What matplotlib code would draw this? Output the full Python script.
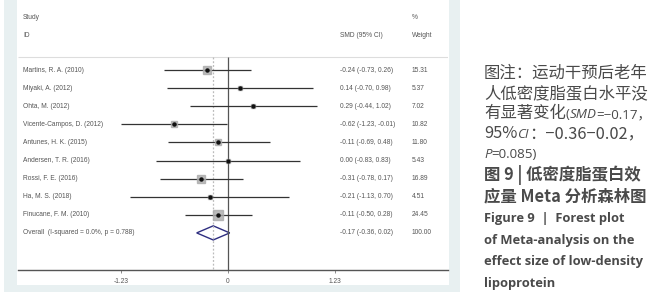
import matplotlib
matplotlib.use("Agg")
import matplotlib.pyplot as plt
from matplotlib.patches import Rectangle, Polygon

# data
studies = ["Martins, R. A. (2010)", "Miyaki, A. (2012)", "Ohta, M. (2012)",
           "Vicente-Campos, D. (2012)", "Antunes, H. K. (2015)", "Andersen, T. R. (2016)",
           "Rossi, F. E. (2016)", "Ha, M. S. (2018)", "Finucane, F. M. (2010)"]
smd = [-0.24, 0.14, 0.29, -0.62, -0.11, 0.00, -0.31, -0.21, -0.11]
ci_lo = [-0.73, -0.70, -0.44, -1.23, -0.69, -0.83, -0.78, -1.13, -0.50]
ci_hi = [0.26, 0.98, 1.02, -0.01, 0.48, 0.83, 0.17, 0.70, 0.28]
weights = [15.31, 5.37, 7.02, 10.82, 11.80, 5.43, 16.89, 4.51, 24.45]
overall = (-0.17, -0.36, 0.02)
overall_label = "Overall  (I-squared = 0.0%, p = 0.788)"
ticks = [-1.23, 0, 1.23]
tick_labels = ["-1.23", "0", "1.23"]

W, H = 664, 300
fig = plt.figure(figsize=(W / 100, H / 100), dpi=100)
fig.patch.set_facecolor("white")

# light frame and white panel behind the plot
fig.patches.append(Rectangle((4 / W, 8 / H), 456 / W, 292 / H, transform=fig.transFigure,
                             facecolor="#e8f0f1", edgecolor="none", zorder=-2))
fig.patches.append(Rectangle((17 / W, 15 / H), 432 / W, 285 / H, transform=fig.transFigure,
                             facecolor="white", edgecolor="none", zorder=-1))

ax = fig.add_axes([18 / W, 0.1, 430 / W, 0.9])
ax.set_facecolor("none")
ax.set_xlim(-2.414, 2.529)
ax.set_ylim(11.05, -3.87)
for s in ["top", "left", "right"]:
    ax.spines[s].set_visible(False)
ax.spines["bottom"].set_color("#555555")
ax.spines["bottom"].set_linewidth(1.0)
ax.set_yticks([])
ax.set_xticks(ticks)
ax.set_xticklabels(tick_labels, fontsize=4.8, color="#555555", family="Liberation Sans")
ax.tick_params(axis="x", length=2.5, width=0.6, color="#777777", pad=3)

fs = 4.8
tc = "#555555"
fam = "Liberation Sans"
xs_name, xs_smd, xs_w = -2.356, 1.287, 2.115

ax.hlines(-0.72, -2.414, 2.529, color="#dddddd", lw=0.8)
ax.vlines(0, -0.72, 11.05, color="#555555", lw=0.9)
ax.vlines(overall[0], -0.72, 11.05, color="#bbbbbb", lw=0.9, linestyles=(0, (1.5, 1.5)))

ax.text(xs_name, -2.93, "Study", fontsize=fs, color=tc, family=fam, va="center")
ax.text(xs_name, -1.93, "ID", fontsize=fs, color=tc, family=fam, va="center")
ax.text(xs_smd, -1.93, "SMD (95% CI)", fontsize=fs, color=tc, family=fam, va="center")
ax.text(xs_w, -2.93, "%", fontsize=fs, color=tc, family=fam, va="center")
ax.text(xs_w, -1.93, "Weight", fontsize=fs, color=tc, family=fam, va="center")

for i, name in enumerate(studies):
    ax.hlines(i, ci_lo[i], ci_hi[i], color="#333333", lw=0.9)
    ax.plot(smd[i], i, marker="s", ms=1.35 * weights[i] ** 0.5, color="#aaaaaa",
            mec="#aaaaaa", alpha=0.8)
    ax.plot(smd[i], i, marker="o", ms=2.2, color="#111111")
    ax.text(xs_name, i, name, fontsize=fs, color=tc, family=fam, va="center")
    ax.text(xs_smd, i, f"{smd[i]:.2f} ({ci_lo[i]:.2f}, {ci_hi[i]:.2f})",
            fontsize=fs, color=tc, family=fam, va="center")
    ax.text(xs_w, i, f"{weights[i]:.2f}", fontsize=fs, color=tc, family=fam, va="center")

n = len(studies)
ov, lo, hi = overall
ax.add_patch(Polygon([(lo, n), (ov, n - 0.39), (hi, n), (ov, n + 0.39)], closed=True,
                     facecolor="white", edgecolor="#2e2e80", lw=1.0))
ax.text(xs_name, n, overall_label, fontsize=fs, color=tc, family=fam, va="center")
ax.text(xs_smd, n, f"{ov:.2f} ({lo:.2f}, {hi:.2f})", fontsize=fs, color=tc, family=fam, va="center")
ax.text(xs_w, n, "100.00", fontsize=fs, color=tc, family=fam, va="center")

# caption on the right: pieces of one line are measured and placed one after another
cjk = ["Noto Sans CJK SC", "DejaVu Sans"]
lat = ["Open Sans", "Noto Sans CJK SC"]
cap_c = "#4a4a4a"
x0 = 484 / W


def draw_line(y, parts):
    renderer = fig.canvas.get_renderer()
    x = x0
    for txt, family, style, weight, size in parts:
        t = fig.text(x, (H - y) / H, txt, va="baseline", ha="left", fontsize=size,
                     color=cap_c, family=family, style=style, weight=weight)
        bb = t.get_window_extent(renderer)
        x = bb.x1 / W


cs = 11.8
ls = 9.6
es = 9.3
draw_line(78, [("图注：运动干预后老年", cjk, "normal", "medium", cs)])
draw_line(98, [("人低密度脂蛋白水平没", cjk, "normal", "medium", cs)])
draw_line(118, [("有显著变化", cjk, "normal", "medium", cs), ("(", lat, "normal", "normal", ls),
                ("SMD", lat, "italic", "normal", ls), ("=−0.17，", lat, "normal", "normal", ls)])
draw_line(138, [("95%", cjk, "normal", "medium", cs), ("CI", lat, "italic", "normal", ls),
                ("：−0.36−0.02，", cjk, "normal", "medium", cs)])
draw_line(158, [("P", lat, "italic", "normal", ls), ("=0.085)", lat, "normal", "normal", ls)])
draw_line(180, [("图 9 | 低密度脂蛋白效", cjk, "normal", "bold", cs)])
draw_line(201, [("应量 Meta 分析森林图", cjk, "normal", "bold", cs)])
draw_line(222, [("Figure 9  |  Forest plot", lat, "normal", "bold", es)])
draw_line(244, [("of Meta-analysis on the", lat, "normal", "bold", es)])
draw_line(265, [("effect size of low-density", lat, "normal", "bold", es)])
draw_line(287, [("lipoprotein", lat, "normal", "bold", es)])

fig.savefig("out.png", dpi=100)
